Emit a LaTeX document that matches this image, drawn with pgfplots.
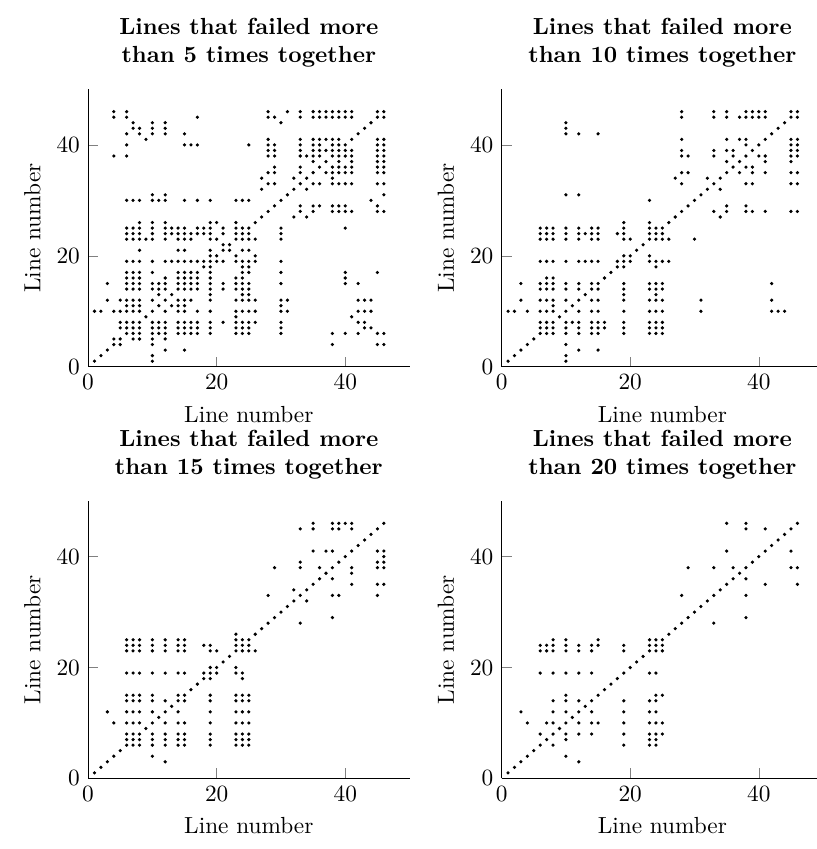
\documentclass[border=0pt]{standalone}
\usepackage{pgfplots}
\pgfplotsset{compat=1.18}
\usepackage{pgfplotstable}

\pgfplotstableread{
d
1
2
3
4
5
6
7
8
9
10
11
12
13
14
15
16
17
18
19
20
21
22
23
24
25
26
27
28
29
30
31
32
33
34
35
36
37
38
39
40
41
42
43
44
45
46
}\diagtab

% panel 1: more than 5 times
\pgfplotstableread{
a b
1 10
2 10
3 12
3 15
4 5
4 10
4 38
4 45
4 46
5 7
5 8
5 10
5 12
6 7
6 8
6 10
6 11
6 12
6 14
6 15
6 16
6 17
6 19
6 23
6 24
6 25
6 30
6 38
6 40
6 42
6 45
6 46
7 8
7 10
7 11
7 12
7 14
7 15
7 16
7 17
7 19
7 23
7 24
7 25
7 30
7 43
7 44
8 10
8 11
8 12
8 14
8 15
8 16
8 17
8 19
8 21
8 23
8 24
8 25
8 26
8 30
8 42
8 43
9 23
9 41
10 12
10 14
10 15
10 17
10 19
10 23
10 24
10 25
10 26
10 30
10 31
10 42
10 43
10 44
11 13
11 14
11 15
11 30
12 14
12 15
12 16
12 19
12 23
12 24
12 25
12 26
12 30
12 31
12 42
12 43
12 44
13 19
13 24
13 25
14 15
14 16
14 17
14 19
14 21
14 23
14 24
14 25
15 16
15 17
15 19
15 21
15 23
15 24
15 25
15 30
15 40
15 42
16 17
16 19
16 23
16 24
16 40
17 19
17 24
17 25
17 30
17 40
17 45
18 19
18 24
18 25
19 20
19 21
19 23
19 24
19 25
19 26
19 30
20 23
20 26
21 22
21 24
21 25
23 24
23 25
23 26
23 30
24 25
24 30
25 30
25 40
27 32
27 34
28 33
28 35
28 38
28 39
28 40
28 41
28 45
28 46
29 33
29 35
29 36
29 38
29 39
29 40
29 45
30 44
31 46
32 34
33 35
33 36
33 38
33 39
33 40
33 41
33 45
33 46
34 38
35 37
35 38
35 39
35 40
35 41
35 45
35 46
36 38
36 39
36 40
36 41
36 45
36 46
37 39
37 41
37 45
37 46
38 39
38 40
38 41
38 45
38 46
39 40
39 41
39 45
39 46
40 45
40 46
41 45
41 46
45 46
}\pairsA

% panel 2: more than 10 times
\pgfplotstableread{
a b
1 10
2 10
3 12
3 15
4 10
6 7
6 8
6 10
6 12
6 14
6 15
6 19
6 23
6 24
6 25
7 8
7 10
7 12
7 14
7 15
7 16
7 19
7 23
7 24
7 25
8 10
8 11
8 12
8 14
8 15
8 16
8 19
8 23
8 24
8 25
10 12
10 14
10 15
10 19
10 23
10 24
10 25
10 31
10 42
10 43
10 44
12 14
12 15
12 19
12 23
12 24
12 25
12 31
12 42
13 19
13 24
14 15
14 19
14 23
14 24
14 25
15 19
15 23
15 24
15 25
15 42
18 19
18 24
19 20
19 23
19 24
19 25
19 26
20 23
23 24
23 25
23 26
23 30
24 25
27 34
32 34
28 33
28 35
28 38
28 39
28 41
28 45
28 46
29 35
29 38
33 38
33 39
33 45
33 46
35 37
35 39
35 41
35 45
35 46
36 38
36 39
37 41
37 45
38 40
38 41
38 45
38 46
39 45
39 46
40 45
40 46
41 45
41 46
45 46
}\pairsB

% panel 3: more than 15 times
\pgfplotstableread{
a b
3 12
4 10
6 7
6 8
6 10
6 12
6 14
6 15
6 19
6 23
6 24
6 25
7 8
7 10
7 12
7 14
7 15
7 19
7 23
7 24
7 25
8 10
8 12
8 14
8 15
8 19
8 23
8 24
8 25
10 12
10 14
10 15
10 19
10 23
10 24
10 25
12 14
12 19
12 23
12 24
12 25
14 15
14 19
14 23
14 24
14 25
15 19
15 23
15 24
15 25
18 19
18 24
19 20
19 23
19 24
20 23
23 24
23 25
23 26
24 25
28 33
29 38
32 34
33 38
33 39
33 45
35 41
35 45
35 46
36 38
37 41
38 41
38 45
38 46
39 45
39 46
40 46
41 45
41 46
}\pairsC

% panel 4: more than 20 times
\pgfplotstableread{
a b
3 12
4 10
6 8
6 19
6 23
6 24
7 10
7 23
7 24
8 10
8 12
8 14
8 19
8 23
8 24
8 25
10 12
10 14
10 15
10 19
10 23
10 24
10 25
12 14
12 19
12 23
12 24
14 19
14 23
14 24
15 24
15 25
19 23
19 24
23 24
23 25
24 25
28 33
29 38
33 38
35 41
35 46
36 38
38 45
38 46
41 45
}\pairsD

\pgfplotsset{
  panel/.style={
    scale only axis,
    width=138pt, height=119pt,
    anchor=south west,
    xmin=0, xmax=50, ymin=0, ymax=50,
    xtick={0,20,40}, ytick={0,20,40},
    axis lines=left,
    axis line style={-},
    tick align=inside,
    xlabel={Line number},
    ylabel={Line number},
    title style={font=\bfseries, align=center},
  },
  dots/.style={only marks, mark=*, mark size=0.48pt, black},
}

\begin{document}
\begin{tikzpicture}
\begin{axis}[panel, at={(37.8pt,207.0pt)},
  title={Lines that failed more\\than 5 times together}]
  \addplot[dots] table[x=d, y=d] {\diagtab};
  \addplot[dots] table[x=a, y=b] {\pairsA};
  \addplot[dots] table[x=b, y=a] {\pairsA};
\end{axis}
\begin{axis}[panel, at={(215.3pt,207.0pt)},
  title={Lines that failed more\\than 10 times together}]
  \addplot[dots] table[x=d, y=d] {\diagtab};
  \addplot[dots] table[x=a, y=b] {\pairsB};
  \addplot[dots] table[x=b, y=a] {\pairsB};
\end{axis}
\begin{axis}[panel, at={(37.8pt,30.3pt)},
  title={Lines that failed more\\than 15 times together}]
  \addplot[dots] table[x=d, y=d] {\diagtab};
  \addplot[dots] table[x=a, y=b] {\pairsC};
  \addplot[dots] table[x=b, y=a] {\pairsC};
\end{axis}
\begin{axis}[panel, at={(215.3pt,30.3pt)},
  title={Lines that failed more\\than 20 times together}]
  \addplot[dots] table[x=d, y=d] {\diagtab};
  \addplot[dots] table[x=a, y=b] {\pairsD};
  \addplot[dots] table[x=b, y=a] {\pairsD};
\end{axis}
\pgfresetboundingbox
\path[use as bounding box] (0pt,0pt) rectangle (350.6pt,364.4pt);
\end{tikzpicture}
\end{document}
